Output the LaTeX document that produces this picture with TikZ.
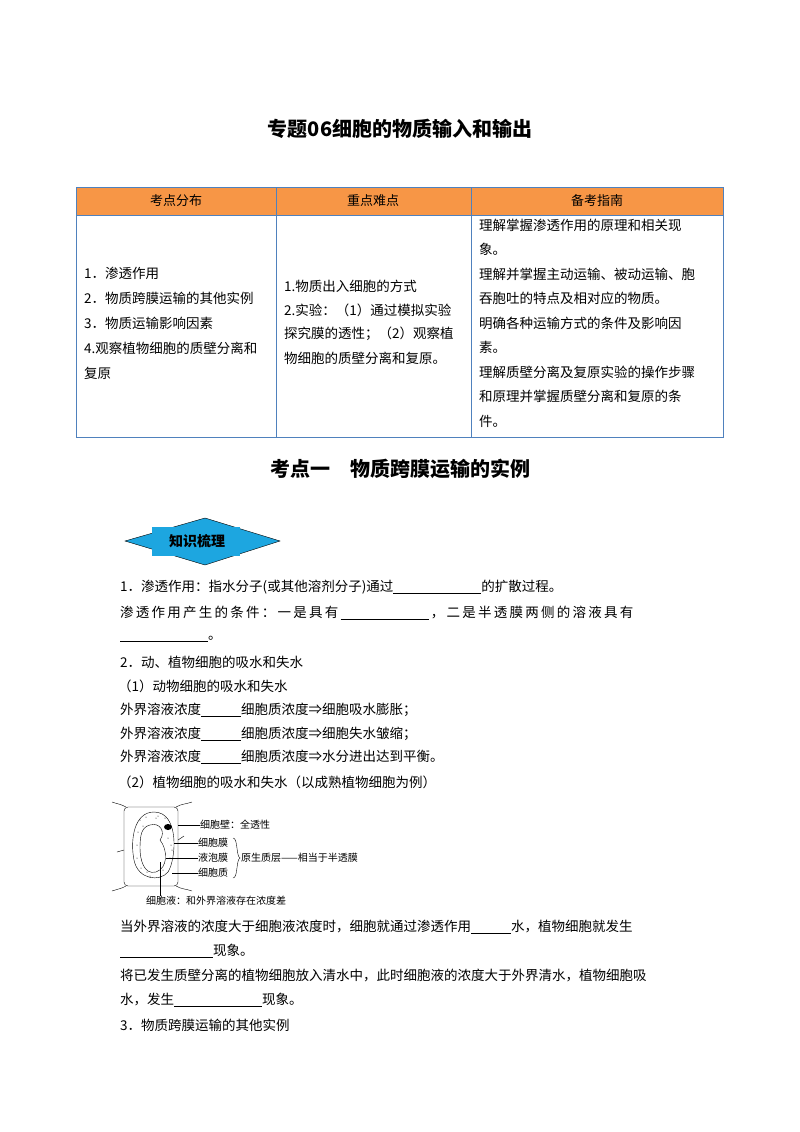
\documentclass[tikz,border=0pt]{standalone}
\usepackage{fontspec}
\setmainfont{Noto Sans CJK SC}
\newcommand{\blank}[1]{\underline{\hspace{#1pt}}}
\tikzset{
	txt/.style={anchor=west,inner sep=0pt,font=\fontsize{13.5}{15}\selectfont},
	cell/.style={anchor=west,inner sep=0pt,font=\fontsize{13.5}{15}\selectfont},
	tiny/.style={anchor=west,inner sep=0pt,font=\fontsize{10}{11}\selectfont},
	head/.style={inner sep=0pt,font=\fontsize{13}{15}\selectfont},
}
\definecolor{tabhead}{HTML}{F79646}
\definecolor{tabline}{HTML}{4F81BD}
\definecolor{badge}{HTML}{1DA6E0}
\begin{document}
\begin{tikzpicture}[x=1pt,y=-1pt]
\useasboundingbox (0,0) rectangle (800,1132);
% title
\node[font=\fontsize{20}{22}\selectfont\bfseries] (title) at (400,129) {专题06细胞的物质输入和输出};
% table
\fill[tabhead] (76,187) rectangle (723,215);
\draw[tabline,thick] (76,187) rectangle (723,437);
\draw[tabline] (76,215) -- (723,215);
\draw[tabline] (276,187) -- (276,437);
\draw[tabline] (471,187) -- (471,437);
\node[head] (h1) at (176,201) {考点分布};
\node[head] (h2) at (373,201) {重点难点};
\node[head] (h3) at (597,201) {备考指南};
\foreach \t [count=\i] in {1．渗透作用,2．物质跨膜运输的其他实例,3．物质运输影响因素,4.观察植物细胞的质壁分离和,复原}
	\node[cell] at (84,248+25*\i) {\t};
\foreach \t [count=\i] in {1.物质出入细胞的方式,2.实验：（1）通过模拟实验,探究膜的透性；（2）观察植,物细胞的质壁分离和复原。}
	\node[cell] at (284,262+24*\i) {\t};
\foreach \t [count=\i] in {理解掌握渗透作用的原理和相关现,象。,理解并掌握主动运输、被动运输、胞,吞胞吐的特点及相对应的物质。,明确各种运输方式的条件及影响因,素。,理解质壁分离及复原实验的操作步骤,和原理并掌握质壁分离和复原的条,件。}
	\node[cell] at (479,200.5+24.5*\i) {\t};
% section title
\node[font=\fontsize{20}{22}\selectfont\bfseries] (sec) at (400,469) {考点一\quad 物质跨膜运输的实例};
% badge
\draw[fill=badge] (125,541) -- (205,518) -- (280,541) -- (205,565) -- cycle;
\fill[badge] (152,527) rectangle (240,556);
\node[font=\fontsize{14}{16}\selectfont\bfseries] (badge) at (197,541) {知识梳理};
% text
\node[txt] (l1) at (120,587) {1．渗透作用：指水分子(或其他溶剂分子)通过\blank{88}的扩散过程。};
\node[txt] (l2) at (120,613) {渗\,透\,作\,用\,产\,生\,的\,条\,件\,：\,一\,是\,具\,有\,\blank{88}\,，\,二\,是\,半\,透\,膜\,两\,侧\,的\,溶\,液\,具\,有};
\node[txt] (l3) at (120,639) {\blank{88}。};
\node[txt] (l4) at (120,662) {2．动、植物细胞的吸水和失水};
\node[txt] (l5) at (118,686) {（1）动物细胞的吸水和失水};
\node[txt] (l6) at (120,710) {外界溶液浓度\blank{40}细胞质浓度⇒细胞吸水膨胀；};
\node[txt] (l7) at (120,734) {外界溶液浓度\blank{40}细胞质浓度⇒细胞失水皱缩；};
\node[txt] (l8) at (120,757) {外界溶液浓度\blank{40}细胞质浓度⇒水分进出达到平衡。};
\node[txt] (l9) at (118,782) {（2）植物细胞的吸水和失水（以成熟植物细胞为例）};
% cell figure
\draw[rounded corners=4] (124,807) rectangle (178,886);
\draw (126,807) to[out=150,in=-20] (112,802);
\draw (176,807) to[out=30,in=200] (192,802);
\draw (126,886) to[out=-150,in=20] (112,891);
\draw (176,886) to[out=-30,in=160] (192,891);
\draw (124,850) -- (117,852);
\draw (178,840) -- (184,836);
\draw (154,812) .. controls (180,812) and (176,860) .. (168,872) .. controls (160,882) and (138,880) .. (134,860) .. controls (130,840) and (134,812) .. (154,812);
\draw (150,825) .. controls (160,822) and (166,832) .. (160,840) .. controls (168,850) and (168,868) .. (156,872) .. controls (144,875) and (140,860) .. (140,848) .. controls (140,834) and (142,827) .. (150,825);
\fill (168,827) ellipse (4 and 3);
\foreach \p in {(140,820),(146,817),(158,816),(165,818),(138,832),(137,845),(137,858),(141,868),(150,876),(160,877),(170,858),(171,845),(168,838),(163,870),(147,872),(143,826),(172,850),(156,818)}
	\fill \p circle (0.5);
\node[tiny] (wall) at (200,825) {细胞壁：全透性};
\node[tiny] (mem) at (198,843) {细胞膜};
\node[tiny] (vmem) at (198,858) {液泡膜};
\node[tiny] (cyto) at (198,873) {细胞质};
\node[tiny] (proto) at (241,858) {原生质层——相当于半透膜};
\node[tiny] (sap) at (146,901) {细胞液：和外界溶液存在浓度差};
\coordinate (wallend) at (178,825);
\coordinate (memend) at (174,843);
\coordinate (vmemend) at (166,858);
\coordinate (cytoend) at (172,873);
\coordinate (sapend) at (160,862);
\draw (wallend) -- (wall.west);
\draw (memend) -- (mem.west);
\draw (vmemend) -- (vmem.west);
\draw (cytoend) -- (cyto.west);
\draw (sapend) -- (sapend |- sap.north);
\draw (233,838) .. controls (238,838) and (236,856) .. (240,858) .. controls (236,860) and (238,878) .. (233,878);
% text after figure
\node[txt] (l10) at (120,927) {当外界溶液的浓度大于细胞液浓度时，细胞就通过渗透作用\blank{40}水，植物细胞就发生};
\node[txt] (l11) at (120,951) {\blank{93}现象。};
\node[txt] (l12) at (120,975) {将已发生质壁分离的植物细胞放入清水中，此时细胞液的浓度大于外界清水，植物细胞吸};
\node[txt] (l13) at (120,1000) {水，发生\blank{88}现象。};
\node[txt] (l14) at (120,1025) {3．物质跨膜运输的其他实例};
\end{tikzpicture}
\end{document}
